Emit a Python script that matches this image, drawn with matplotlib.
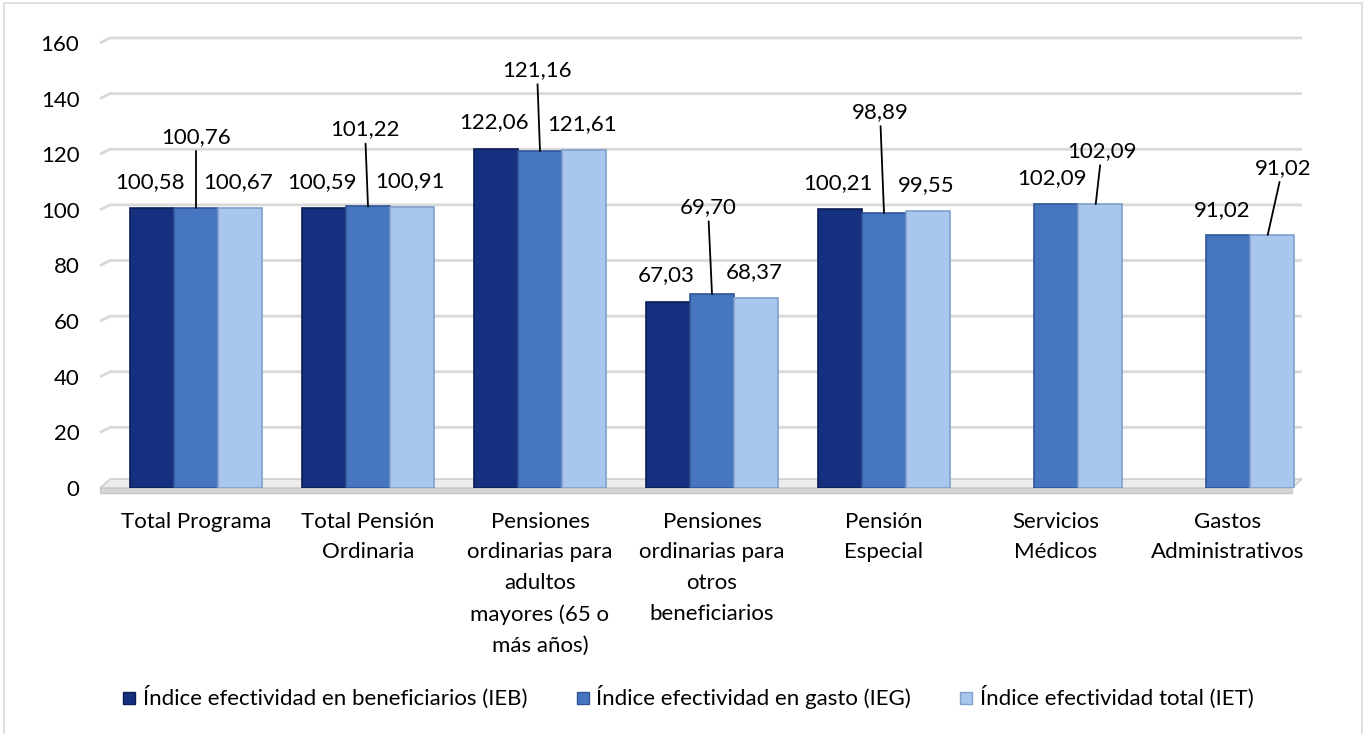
import numpy as np
import matplotlib
matplotlib.use("Agg")
import matplotlib.pyplot as plt
from matplotlib.patches import Polygon, Rectangle
from matplotlib.lines import Line2D

# Data
categories = [
    "Total Programa",
    "Total Pensión\nOrdinaria",
    "Pensiones\nordinarias para\nadultos\nmayores (65 o\nmás años)",
    "Pensiones\nordinarias para\notros\nbeneficiarios",
    "Pensión\nEspecial",
    "Servicios\nMédicos",
    "Gastos\nAdministrativos",
]
series_names = [
    "Índice efectividad en beneficiarios (IEB)",
    "Índice efectividad en gasto (IEG)",
    "Índice efectividad total (IET)",
]
ieb = [100.58, 100.59, 122.06, 67.03, 100.21, np.nan, np.nan]
ieg = [100.76, 101.22, 121.16, 69.70, 98.89, 102.09, 91.02]
iet = [100.67, 100.91, 121.61, 68.37, 99.55, 102.09, 91.02]
y_ticks = [0, 20, 40, 60, 80, 100, 120, 140, 160]

colors = ["#15307e", "#4676c0", "#a9c6ec"]
edges = ["#0b1d55", "#2f5597", "#7f9fcc"]

plt.rcParams["font.family"] = ["Lato", "DejaVu Sans"]
FS = 16

W, H = 1365, 734
fig = plt.figure(figsize=(W / 100, H / 100), dpi=100)
ax_l, ax_r, ax_b, ax_t = 110, 1314, 488, 43
ax = fig.add_axes([ax_l / W, (H - ax_b) / H, (ax_r - ax_l) / W, (ax_b - ax_t) / H])
ax_w, ax_h = ax_r - ax_l, ax_b - ax_t

# figure frame (bottom edge runs off the picture)
fig.patches.append(Rectangle((4 / W, -10 / H), (W - 7) / W, (H + 7) / H,
                             transform=fig.transFigure, fill=False,
                             edgecolor="#d9d9d9", linewidth=1.2))

ax.set_xlim(-0.5, len(categories) - 0.5)
ax.set_ylim(0, 160)
for s in ax.spines.values():
    s.set_visible(False)

# back wall gridlines with slanted left part (pseudo 3D)
gx0, gx1 = -10 / ax_w, 0.99
dz = 5 / ax_h
for v in y_ticks[1:]:
    fy = v / 160
    ax.plot([gx0, 0, gx1], [fy, fy + dz, fy + dz], transform=ax.transAxes,
            color="#d9d9d9", lw=2, clip_on=False, zorder=0,
            solid_capstyle="butt")

# floor slab
top = Polygon([(gx0, 0), (0, 9 / ax_h), (gx1, 9 / ax_h), (gx1 - 10 / ax_w, 0)],
              closed=True, transform=ax.transAxes, clip_on=False,
              facecolor="#ececec", edgecolor="#c9c9c9", lw=1, zorder=1)
front = Polygon([(gx0, 0), (gx1 - 10 / ax_w, 0), (gx1 - 10 / ax_w, -5 / ax_h),
                 (gx0, -5 / ax_h)],
                closed=True, transform=ax.transAxes, clip_on=False,
                facecolor="#d6d6d6", edgecolor="#c9c9c9", lw=1, zorder=1)
ax.add_patch(top)
ax.add_patch(front)

x = np.arange(len(categories))
bw = 0.256
all_series = [ieb, ieg, iet]
for i, vals in enumerate(all_series):
    ax.bar(x + (i - 1) * bw, vals, width=bw, color=colors[i],
           edgecolor=edges[i], linewidth=1.2, zorder=3, label=series_names[i])


def fmt(v):
    return f"{v:.2f}".replace(".", ",")


# (series index, category index) -> (dx px, dy px, leader line)
special = {
    (1, 0): (0, 71, True),
    (1, 1): (-3, 77, True),
    (1, 2): (-3, 81, True),
    (1, 3): (-4, 87, True),
    (1, 4): (-4, 101, True),
    (1, 5): (-4, 26, False),
    (2, 5): (6, 53, True),
    (1, 6): (-6, 25, False),
    (2, 6): (15, 67, True),
}
for i, vals in enumerate(all_series):
    for j, v in enumerate(vals):
        if np.isnan(v):
            continue
        dx, dy, lead = special.get((i, j), (-2, 26, False))
        xb = x[j] + (i - 1) * bw
        if lead:
            ax.annotate(fmt(v), xy=(xb - (0.025 if dx > 2 else 0), v),
                        xytext=(dx, dy), textcoords="offset pixels",
                        ha="center", va="center", fontsize=FS, zorder=5,
                        arrowprops=dict(arrowstyle="-", color="black", lw=1.3,
                                        shrinkA=1, shrinkB=0))
        else:
            ax.annotate(fmt(v), xy=(xb, v), xytext=(dx, dy),
                        textcoords="offset pixels", ha="center", va="center",
                        fontsize=FS, zorder=5)

ax.set_yticks(y_ticks)
ax.set_yticklabels([str(t) for t in y_ticks], fontsize=FS)
ax.set_xticks(x)
ax.set_xticklabels(categories, fontsize=FS, linespacing=1.67, va="top")
ax.tick_params(axis="y", length=0, pad=22)
ax.tick_params(axis="x", length=0, pad=17)

handles = [Line2D([], [], marker="s", linestyle="none", markersize=9,
                  markerfacecolor=colors[i], markeredgecolor=edges[i])
           for i in range(3)]
fig.legend(handles, series_names, loc="center", bbox_to_anchor=(0.504, 0.05),
           ncol=3, frameon=False, fontsize=FS, handletextpad=0.3,
           columnspacing=2.2, handlelength=0.6)

fig.savefig("out.png", dpi=100, facecolor="white")
